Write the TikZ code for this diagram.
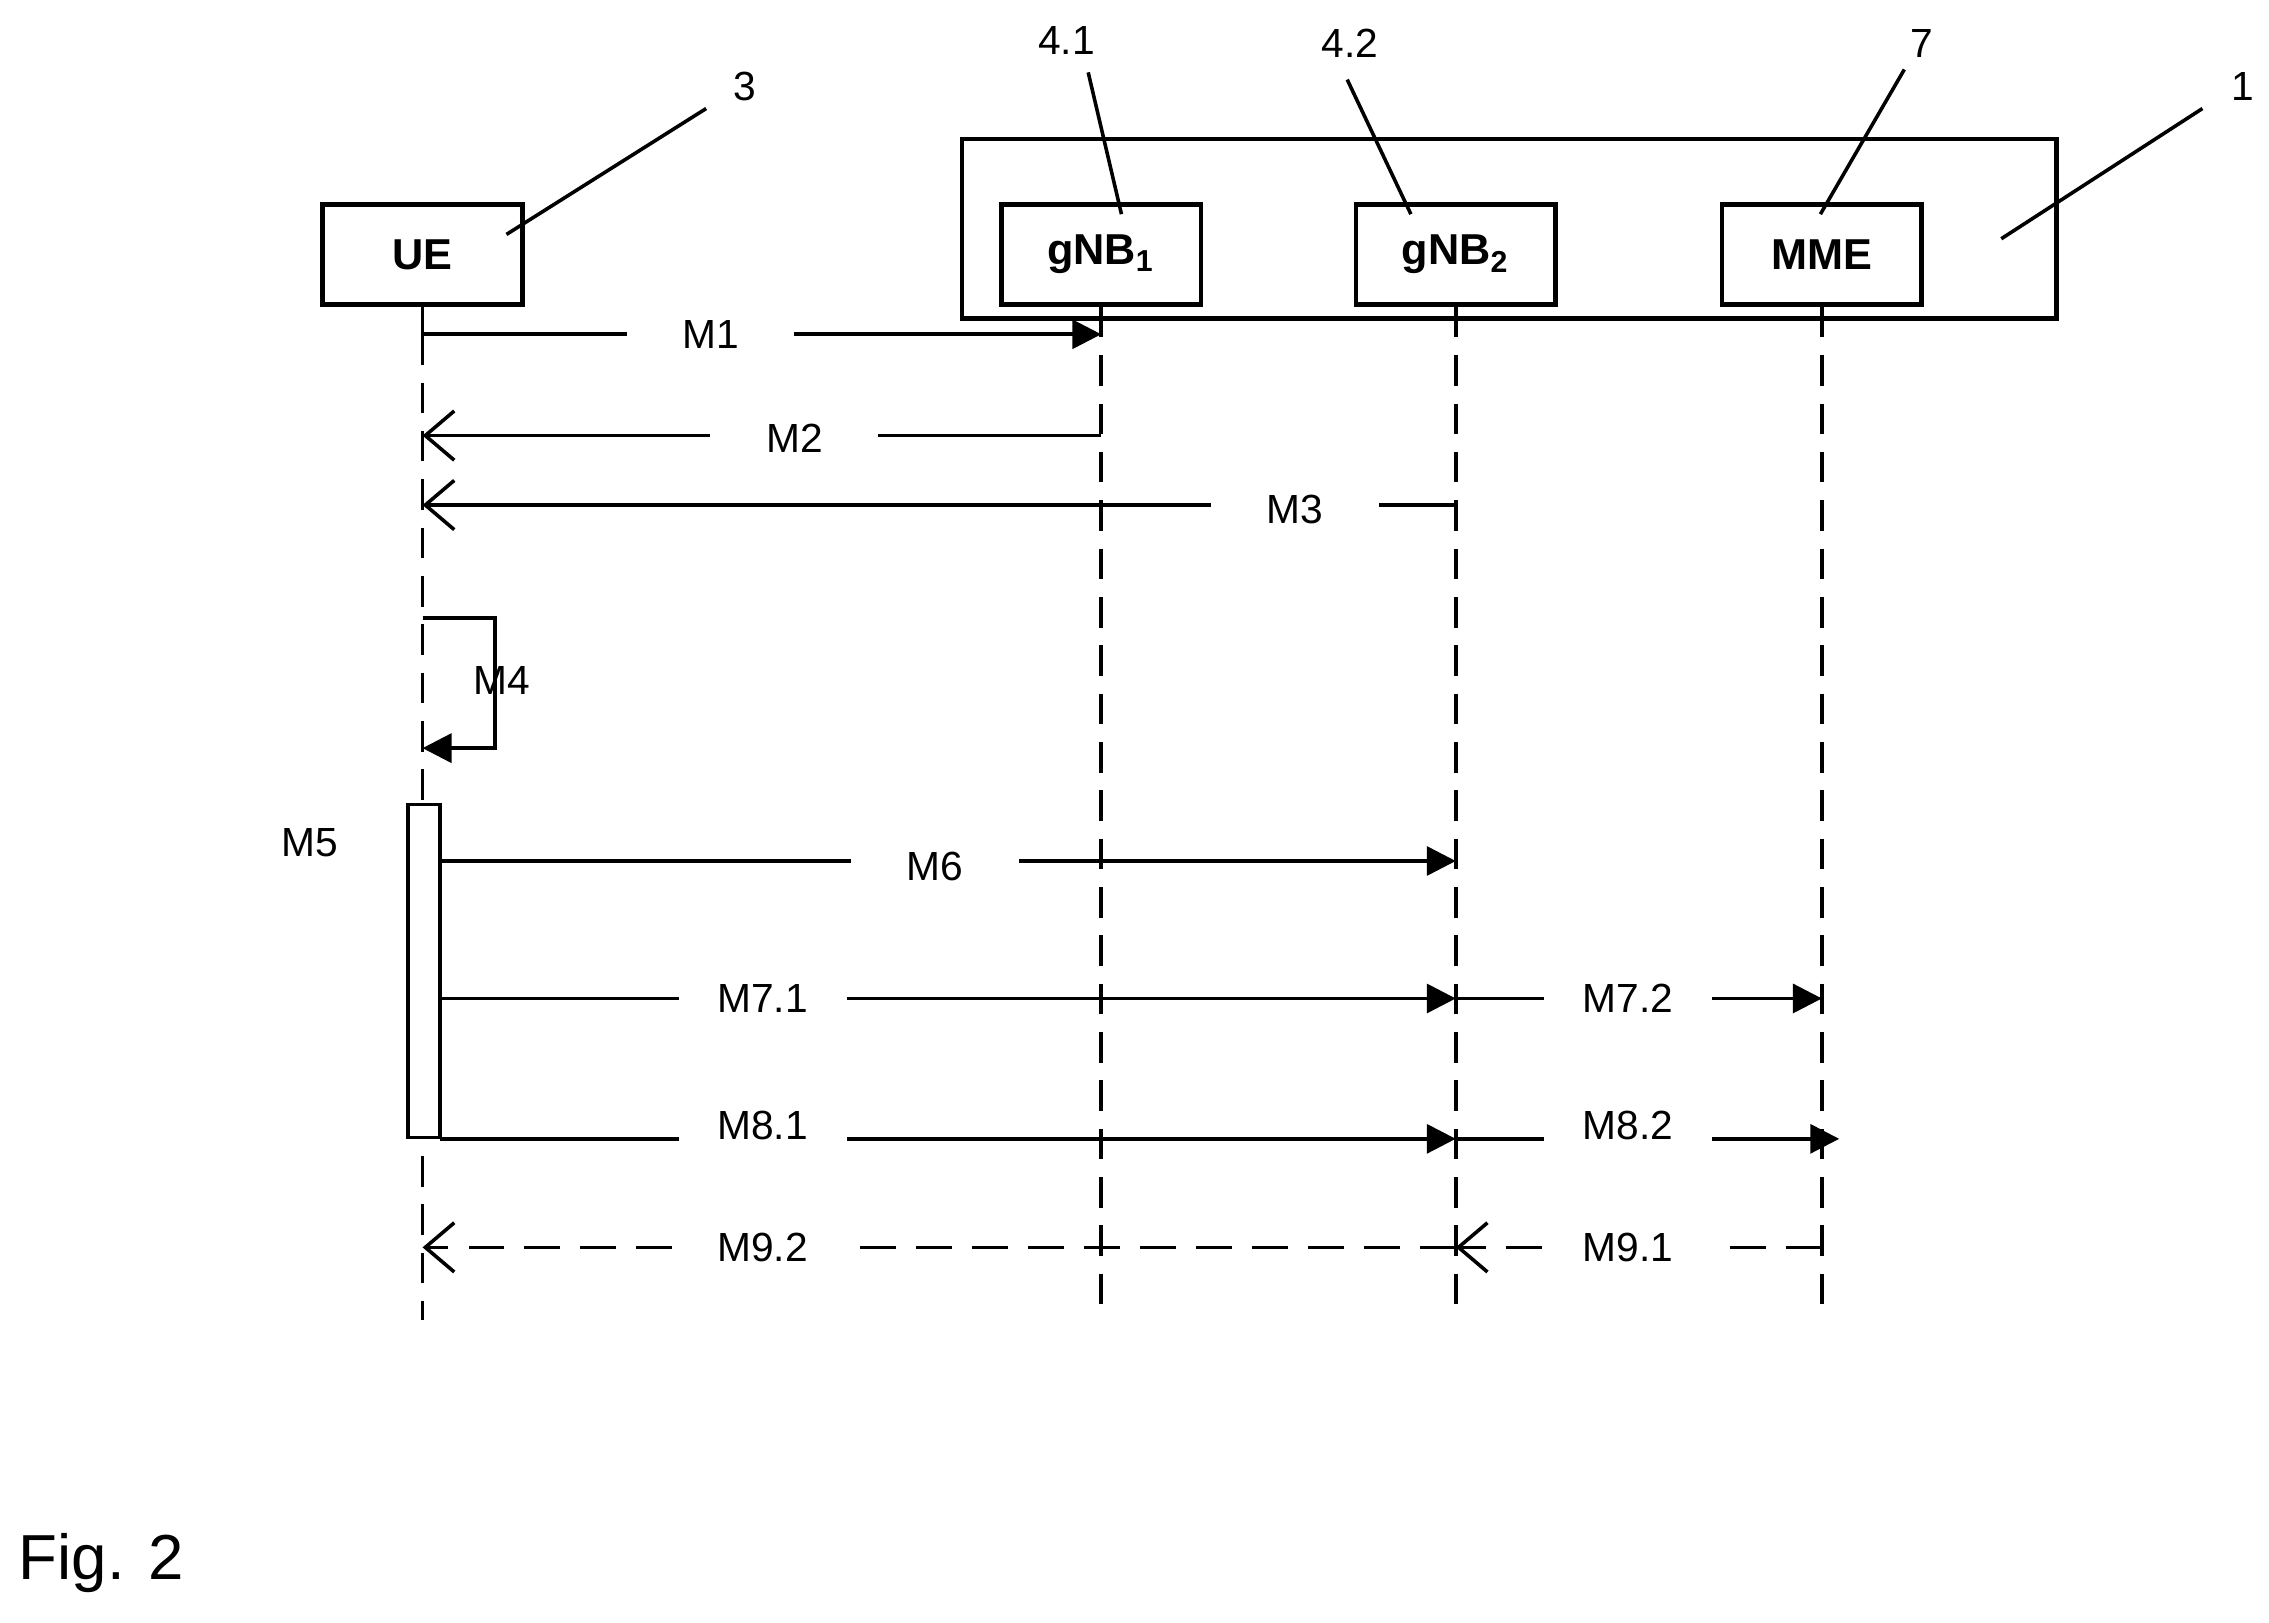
\documentclass[tikz,border=0pt]{standalone}
\usepackage{fontspec}
\setmainfont{Liberation Sans}
\usetikzlibrary{arrows.meta}
\begin{document}
\begin{tikzpicture}[x=0.01cm,y=-0.01cm,line width=0.7pt,
  ent/.style={draw,line width=0.9pt,minimum width=1.38cm,minimum height=0.69cm,font=\fontsize{8.5}{10}\selectfont\bfseries},
  life/.style={dash pattern=on 6pt off 3.5pt},
  fa/.style={-{Triangle[length=2mm,width=2mm]}},
  oa/.style={-{Straight Barb[length=2mm,width=3.4mm]}},
  lab/.style={fill=white,minimum width=1.16cm,inner sep=1pt,font=\fontsize{8}{10}\selectfont},
  ref/.style={font=\fontsize{8}{10}\selectfont}]
\useasboundingbox (0,0) rectangle (1568,1121);
\node[draw,line width=0.9pt,minimum width=7.56cm,minimum height=1.24cm] (net) at (1043,158) {};
\node[ent] (ue) at (292,176) {UE};
\node[ent] (g1) at (761,176) {gNB\textsubscript{1}};
\node[ent] (g2) at (1006,176) {gNB\textsubscript{2}};
\node[ent] (mme) at (1259,176) {MME};
\coordinate (ueE) at (292,912); \coordinate (g1E) at (761,912);
\coordinate (g2E) at (1006,912); \coordinate (mmeE) at (1259,912);
\draw (ue.south) -- (292,231);
\draw[life] (292,231) -- (ueE);
\draw[life] (g1.south) -- (g1E);
\draw[life] (g2.south) -- (g2E);
\draw[life] (mme.south) -- (mmeE);
% reference labels
\node[ref] (r3) at (515,60) {3}; \draw (350,162) -- (488,75);
\node[ref] (r41) at (737,28) {4.1}; \draw (775,148) -- (752,50);
\node[ref] (r42) at (933,30) {4.2}; \draw (975,148) -- (931,55);
\node[ref] (r7) at (1328,30) {7}; \draw (1258,148) -- (1316,48);
\node[ref] (r1) at (1550,60) {1}; \draw (1383,165) -- (1522,75);
% messages
\draw[fa] (292,231) -- (761,231); \node[lab] (m1) at (491,231) {M1};
\draw[oa] (761,301) -- (292,301); \node[lab] (m2) at (549,303) {M2};
\draw[oa] (1006,349) -- (292,349); \node[lab] (m3) at (895,352) {M3};
\draw[fa] (292,427) -- (342,427) -- (342,517) -- (292,517);
\node[ref] (m4) at (347,470) {M4};
\node[draw,fill=white,line width=0.7pt,minimum width=0.22cm,minimum height=2.3cm,inner sep=0pt] (act) at (293,671) {};
\node[ref] (m5) at (214,582) {M5};
\draw[fa] (304,595) -- (1006,595); \node[lab] (m6) at (646,599) {M6};
\draw[fa] (304,690) -- (1006,690); \node[lab] (m71) at (527,690) {M7.1};
\draw[fa] (1006,690) -- (1259,690); \node[lab] (m72) at (1125,690) {M7.2};
\draw[fa] (304,787) -- (1006,787); \node[lab] (m81) at (527,778) {M8.1};
\draw[fa] (1006,787) -- (1271,787); \node[lab] (m82) at (1125,778) {M8.2};
\draw[oa,dash pattern=on 7pt off 4pt] (1259,862) -- (1006,862); \node[lab] (m91) at (1125,862) {M9.1};
\draw[oa,dash pattern=on 7pt off 4pt] (1006,862) -- (292,862); \node[lab] (m92) at (527,862) {M9.2};
\node[font=\fontsize{12.5}{14}\selectfont] (fig) at (70,1080) {Fig. 2};
\end{tikzpicture}
\end{document}
